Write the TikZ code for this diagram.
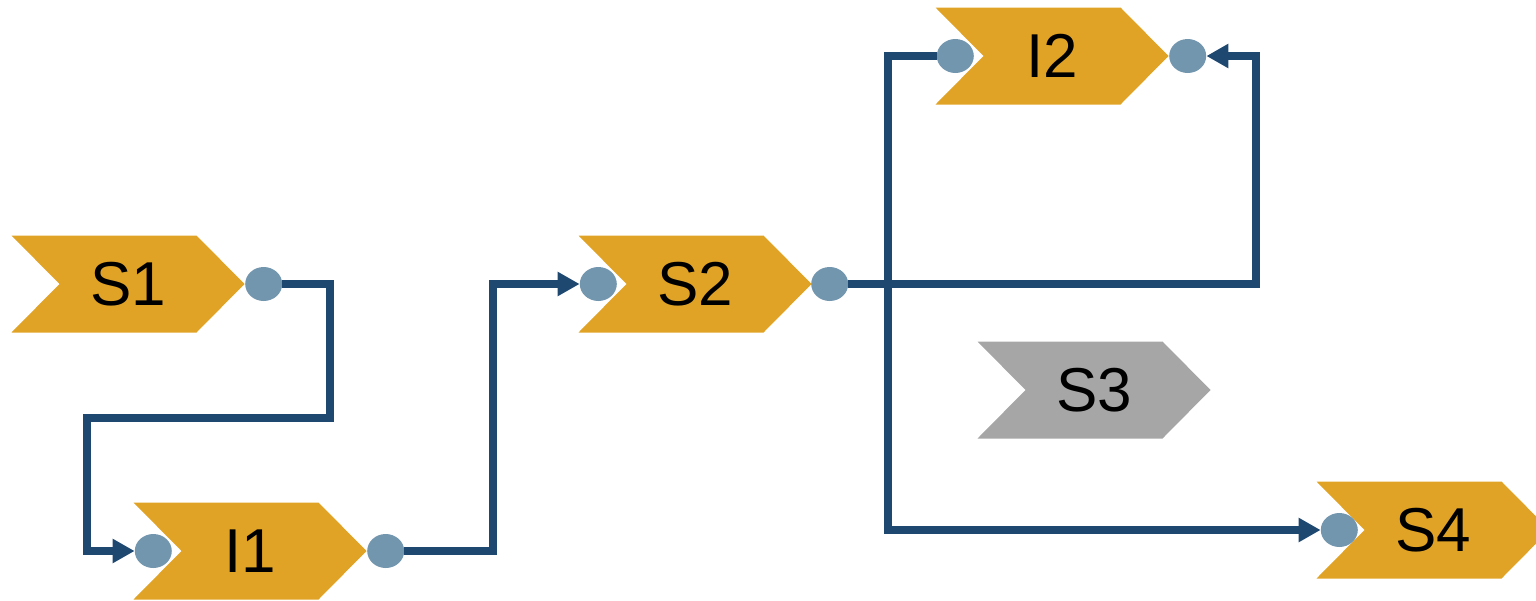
\documentclass[tikz,border=0pt]{standalone}
\usepackage{fontspec}
\setmainfont{Liberation Sans}
\usepackage{tikz}
\usetikzlibrary{arrows.meta,positioning,shapes.geometric,calc}
\definecolor{chevorange}{HTML}{E1A325}
\definecolor{chevgray}{HTML}{A6A6A6}
\definecolor{portblue}{HTML}{7396AF}
\definecolor{wirenavy}{HTML}{1F4871}
\tikzset{
  chev/.style={minimum width=233pt, minimum height=97pt, inner sep=0pt,
    font=\fontsize{62}{62}\selectfont,
    path picture={\fill[#1] (path picture bounding box.north west)
      -- ([xshift=-48pt]path picture bounding box.north east)
      -- (path picture bounding box.east)
      -- ([xshift=-48pt]path picture bounding box.south east)
      -- (path picture bounding box.south west)
      -- ([xshift=48pt]path picture bounding box.west) -- cycle;}},
  port/.style={ellipse, fill=portblue, minimum width=37pt, minimum height=34pt, inner sep=0pt},
  flow/.style={-{Triangle[length=22pt, width=23pt]}, line width=8pt, draw=wirenavy},
}

\begin{document}
\begin{tikzpicture}[x=1pt, y=-1pt]
\useasboundingbox (0,0) rectangle (1536,600);
\node[chev=chevorange] (S1) at (128,284) {S1};
\node[chev=chevorange] (I1) at (250,551) {I1};
\node[chev=chevorange] (S2) at (695,284) {S2};
\node[chev=chevorange] (I2) at (1052,56) {I2};
\node[chev=chevgray]   (S3) at (1094,390) {S3};
\node[chev=chevorange] (S4) at (1433,530) {S4};
% ports
\node[port] (S1o) at ([xshift=19pt]S1.east) {};
\node[port] (I1i) at ([xshift=20pt]I1.west) {};
\node[port] (I1o) at ([xshift=19pt]I1.east) {};
\node[port] (S2i) at ([xshift=20pt]S2.west) {};
\node[port] (S2o) at ([xshift=18pt]S2.east) {};
\node[port] (I2i) at ([xshift=20pt]I2.west) {};
\node[port] (I2o) at ([xshift=19pt]I2.east) {};
\node[port] (S4i) at ([xshift=23pt]S4.west) {};
% bends
\coordinate (b1) at (330,418);
\coordinate (b2) at (87,418);
\coordinate (b3) at (493,420);
\coordinate (b4) at (1256,170);
\coordinate (b5) at (888,300);
\draw[flow] (S1o) -| (b1) -- (b2) |- (I1i);
\draw[flow] (I1o) -| (b3) |- (S2i);
\draw[flow] (S2o) -| (b4) |- (I2o);
\draw[flow] (I2i) -| (b5) |- (S4i);
\end{tikzpicture}
\end{document}
